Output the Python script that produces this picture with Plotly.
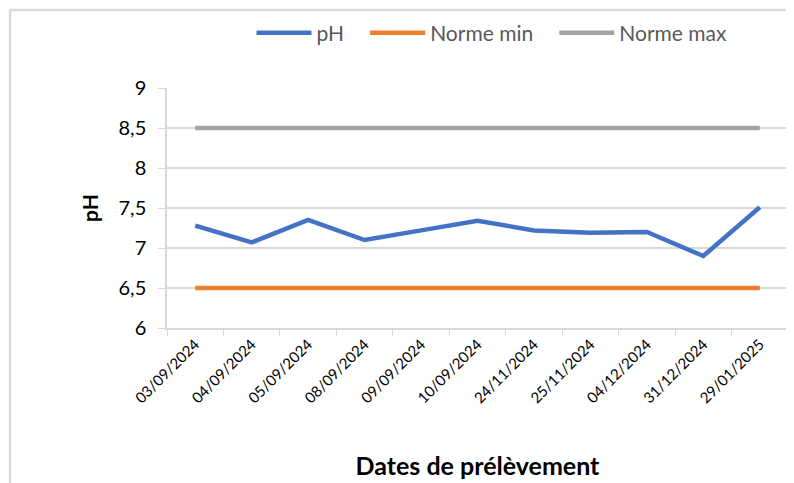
import plotly.graph_objects as go

dates = ["03/09/2024", "04/09/2024", "05/09/2024", "08/09/2024", "09/09/2024",
         "10/09/2024", "24/11/2024", "25/11/2024", "04/12/2024", "31/12/2024", "29/01/2025"]
ph_values = [7.28, 7.07, 7.35, 7.10, 7.22, 7.34, 7.22, 7.19, 7.20, 6.90, 7.51]
norme_min = [6.5] * len(dates)
norme_max = [8.5] * len(dates)
series_names = ["pH", "Norme min", "Norme max"]

FONT = "Lato"
GRID = "#d9d9d9"
PAD = "\u00a0\u00a0\u00a0"

fig = go.Figure()
fig.add_trace(go.Scatter(x=dates, y=ph_values, name=series_names[0] + PAD, mode="lines",
                         line=dict(color="#4472C4", width=4.5)))
fig.add_trace(go.Scatter(x=dates, y=norme_min, name=series_names[1] + PAD, mode="lines",
                         line=dict(color="#ED7D31", width=4.5)))
fig.add_trace(go.Scatter(x=dates, y=norme_max, name=series_names[2], mode="lines",
                         line=dict(color="#A5A5A5", width=4.5)))

# page body has an 8px margin, so figure coordinates = page coordinates - 8
OFF = 8
W, H = 794, 483
L, R, T, B = 167 - OFF, 788 - OFF, 88 - OFF, 328 - OFF
pw, ph = R - L, B - T

fig.update_layout(
    width=W, height=H,
    margin=dict(l=L, r=W - R, t=T, b=H - B, autoexpand=False),
    paper_bgcolor="white", plot_bgcolor="white",
    separators=", ",
    font=dict(family=FONT, size=17, color="black"),
    showlegend=True,
    legend=dict(orientation="h", x=(492 - OFF - L) / pw, xanchor="center",
                y=1 + (T - (33 - OFF)) / ph, yanchor="middle",
                font=dict(family=FONT, size=21, color="#595959"),
                itemwidth=55, tracegroupgap=0, bgcolor="rgba(0,0,0,0)"),
    xaxis=dict(type="category", tickangle=-45, showgrid=False, automargin=False,
               showline=True, linecolor=GRID, linewidth=1.5,
               ticks="outside", tickson="boundaries", ticklen=6, tickcolor=GRID,
               tickfont=dict(family=FONT, size=15, color="black"),
               title=dict(text="<b>Dates de prélèvement</b>",
                          font=dict(family=FONT, size=25, color="black"),
                          standoff=52),
               range=[-0.5, len(dates) - 0.5]),
    yaxis=dict(range=[6, 9], dtick=0.5, tick0=6, showgrid=True, gridcolor=GRID,
               gridwidth=1.5, zeroline=False, automargin=False,
               showline=True, linecolor=GRID, linewidth=1.5,
               ticks="outside", ticklen=7, tickcolor=GRID, ticklabelstandoff=8,
               tickfont=dict(family=FONT, size=20, color="black"),
               title=dict(text="<b>pH</b>",
                          font=dict(family=FONT, size=21, color="black"),
                          standoff=14)),
    shapes=[
        dict(type="line", xref="paper", yref="paper",
             x0=(10 - OFF - L) / pw, x1=(W + 5 - L) / pw,
             y0=1 + (T - (10 - OFF)) / ph, y1=1 + (T - (10 - OFF)) / ph,
             line=dict(color=GRID, width=2.5)),
        dict(type="line", xref="paper", yref="paper",
             x0=(10 - OFF - L) / pw, x1=(10 - OFF - L) / pw,
             y0=1 + (T - (10 - OFF)) / ph, y1=-(H + 5 - B) / ph,
             line=dict(color=GRID, width=2.5)),
    ],
)

fig.write_html("out.html")
